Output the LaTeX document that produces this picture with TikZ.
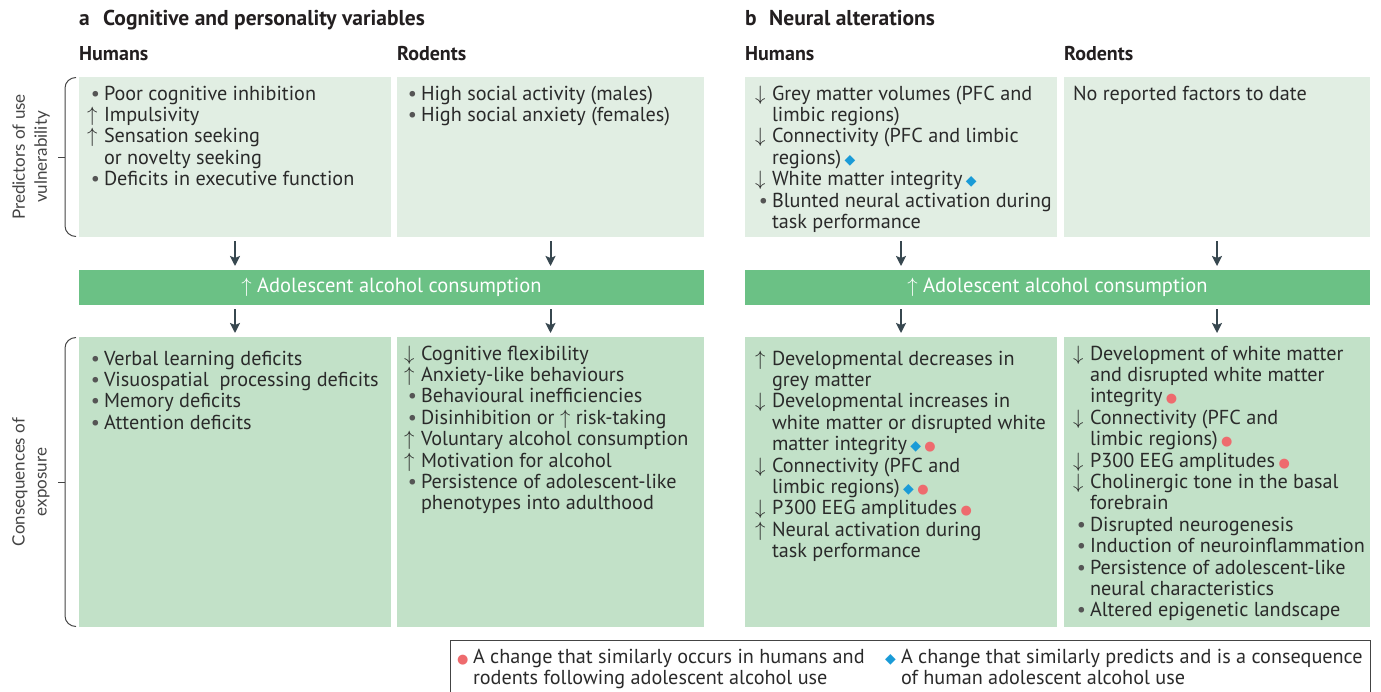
\documentclass[tikz,border=0pt]{standalone}
\usepackage{fontspec}
\setmainfont{PT Sans}
\newfontfamily\sidefont{Lato}
\newfontfamily\symf{DejaVu Sans}
\usetikzlibrary{arrows.meta}
\definecolor{topc}{HTML}{E1EEE3}
\definecolor{botc}{HTML}{C2E1C8}
\definecolor{barc}{HTML}{6BC185}
\definecolor{arrc}{HTML}{37474F}
\definecolor{txtc}{HTML}{2A2A2A}
\definecolor{hdrc}{HTML}{231F20}
\definecolor{bulc}{HTML}{555555}
\definecolor{diac}{HTML}{1A9BD7}
\definecolor{dotc}{HTML}{EE6B6E}
\definecolor{sidec}{HTML}{444444}
\newcommand\uparr{$\uparrow$}
\newcommand\dnarr{$\downarrow$}
\newcommand\itb{\makebox[17pt][c]{\textcolor{bulc}{\textbullet}}}
\newcommand\itu{\makebox[17pt][l]{\uparr}}
\newcommand\itd{\makebox[17pt][l]{\dnarr}}
\newcommand\iti{\hspace*{17pt}}
\newcommand\diam{\,{\fontsize{14}{14}\symf\textcolor{diac}{◆}}}
\newcommand\rdot{\,{\fontsize{13}{13}\symf\textcolor{dotc}{●}}}
\newcommand\fst{\rule{0pt}{15pt}}
\tikzset{
  topbox/.style={fill=topc, draw=none, inner sep=0pt, outer sep=0pt, anchor=north west},
  botbox/.style={fill=botc, draw=none, inner sep=0pt, outer sep=0pt, anchor=north west},
  barbox/.style={fill=barc, draw=none, inner sep=0pt, outer sep=0pt, anchor=north west},
  txt/.style={anchor=north west, align=left, inner sep=0pt, outer sep=0pt, text=txtc, font=\fontsize{20.2}{21.4}\selectfont},
  ttl/.style={anchor=base west, inner sep=0pt, text=hdrc, font=\fontsize{21.5}{24}\selectfont\bfseries},
  hdr/.style={anchor=base west, inner sep=0pt, text=hdrc, font=\fontsize{20}{24}\selectfont\bfseries},
  bartxt/.style={text=white, inner sep=0pt, font=\fontsize{20.5}{24}\selectfont},
  side/.style={rotate=90, align=center, inner sep=0pt, text=sidec, font=\fontsize{17}{22}\selectfont\sidefont},
  arr/.style={draw=arrc, line width=2pt, -{Stealth[length=10pt,width=10pt,inset=2pt]}, shorten <=4pt, shorten >=4pt},
  brace/.style={draw=sidec, line width=1pt},
}
\begin{document}
\begin{tikzpicture}[x=1pt,y=-1pt]
\useasboundingbox (0,0) rectangle (1381,691);
% headers
\node[ttl] (ha) at (79,25) {a};
\node[ttl] (hat) at (103,25) {Cognitive and personality variables};
\node[ttl] (hb) at (745,25) {b};
\node[ttl] (hbt) at (769,25) {Neural alterations};
\node[hdr] (h1) at (79,60) {Humans};
\node[hdr] (h2) at (397,60) {Rodents};
\node[hdr] (h3) at (745,60) {Humans};
\node[hdr] (h4) at (1064,60) {Rodents};
% side labels
\node[side] (s1) at (31,157) {Predictors of use\\vulnerability};
\node[side] (s2) at (31,482) {Consequences of\\exposure};
\draw[brace] (76,77.5) to[out=180,in=90] (65,88) -- (65,226) to[out=-90,in=180] (76,236.5);
\draw[brace] (58,157) -- (65,157);
\draw[brace] (76,337.5) to[out=180,in=90] (65,348) -- (65,616) to[out=-90,in=180] (76,626.5);
\draw[brace] (58,482) -- (65,482);
% boxes
\node[topbox, minimum width=312pt, minimum height=160pt] (a1) at (79,77) {};
\node[topbox, minimum width=307pt, minimum height=160pt] (a2) at (397,77) {};
\node[topbox, minimum width=312pt, minimum height=160pt] (b1) at (745,77) {};
\node[topbox, minimum width=306pt, minimum height=160pt] (b2) at (1064,77) {};
\node[barbox, minimum width=625pt, minimum height=35pt] (barA) at (79,270) {};
\node[barbox, minimum width=625pt, minimum height=35pt] (barB) at (745,270) {};
\node[botbox, minimum width=312pt, minimum height=290pt] (c1) at (79,337) {};
\node[botbox, minimum width=307pt, minimum height=290pt] (c2) at (397,337) {};
\node[botbox, minimum width=312pt, minimum height=290pt] (d1) at (745,337) {};
\node[botbox, minimum width=306pt, minimum height=290pt] (d2) at (1064,337) {};
% bar texts
\node[bartxt] (barAt) at (barA.center) {\uparr\ Adolescent alcohol consumption};
\node[bartxt] (barBt) at (barB.center) {\uparr\ Adolescent alcohol consumption};
% arrows
\draw[arr] (a1.south) -- (a1.south |- barA.north);
\draw[arr] (a2.south) -- (a2.south |- barA.north);
\draw[arr] (b1.south) -- (b1.south |- barB.north);
\draw[arr] (b2.south) -- (b2.south |- barB.north);
\draw[arr] (c1.north |- barA.south) -- (c1.north);
\draw[arr] (c2.north |- barA.south) -- (c2.north);
\draw[arr] (d1.north |- barB.south) -- (d1.north);
\draw[arr] (d2.north |- barB.south) -- (d2.north);
% texts top row
\node[txt] (a1t) at (87,85) {\fst\itb Poor cognitive inhibition\\
\itu Impulsivity\\
\itu Sensation seeking\\
\iti or novelty seeking\\
\itb Deficits in executive function};
\node[txt] (a2t) at (404,85) {\fst\itb High social activity (males)\\
\itb High social anxiety (females)};
\node[txt] (b1t) at (755,85) {\fst\itd Grey matter volumes (PFC and\\
\iti limbic regions)\\
\itd Connectivity (PFC and limbic\\
\iti regions)\diam\\
\itd White matter integrity\diam\\
\itb Blunted neural activation during\\
\iti task performance};
\node[txt] (b2t) at (1073,85) {\fst No reported factors to date};
% texts bottom row
\node[txt] (c1t) at (87,350) {\fst\itb Verbal learning deficits\\
\itb Visuospatial\ \ processing deficits\\
\itb Memory deficits\\
\itb Attention deficits};
\node[txt] (c2t) at (404,345) {\fst\itd Cognitive flexibility\\
\itu Anxiety-like behaviours\\
\itb Behavioural inefficiencies\\
\itb Disinhibition or \uparr\ risk-taking\\
\itu Voluntary alcohol consumption\\
\itu Motivation for alcohol\\
\itb Persistence of adolescent-like\\
\iti phenotypes into adulthood};
\node[txt] (d1t) at (755,350) {\fst\itu Developmental decreases in\\
\iti grey matter\\
\itd Developmental increases in\\
\iti white matter or disrupted white\\
\iti matter integrity\diam\rdot\\
\itd Connectivity (PFC and\\
\iti limbic regions)\diam\rdot\\
\itd P300 EEG amplitudes\rdot\\
\itu Neural activation during\\
\iti task performance};
\node[txt] (d2t) at (1073,345) {\fst\itd Development of white matter\\
\iti and disrupted white matter\\
\iti integrity\rdot\\
\itd Connectivity (PFC and\\
\iti limbic regions)\rdot\\
\itd P300 EEG amplitudes\rdot\\
\itd Cholinergic tone in the basal\\
\iti forebrain\\
\itb Disrupted neurogenesis\\
\itb Induction of neuroinflammation\\
\itb Persistence of adolescent-like\\
\iti neural characteristics\\
\itb Altered epigenetic landscape};
% legend
\draw[draw=sidec, line width=1pt] (450,692) -- (450,640) -- (1370,640) -- (1370,692);
\node[txt] (l1) at (457,648) {\fst\makebox[16pt][l]{\fontsize{13}{13}\symf\textcolor{dotc}{●}}A change that similarly occurs in humans and\\
\hspace*{16pt}rodents following adolescent alcohol use};
\node[txt] (l2) at (885,648) {\fst\makebox[16pt][l]{\fontsize{14}{14}\symf\textcolor{diac}{◆}}A change that similarly predicts and is a consequence\\
\hspace*{16pt}of human adolescent alcohol use};
\end{tikzpicture}
\end{document}
